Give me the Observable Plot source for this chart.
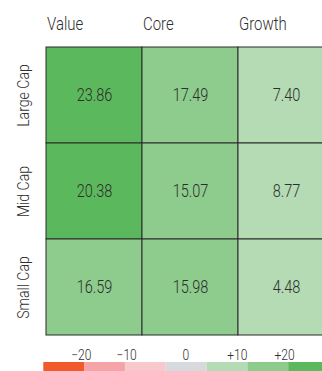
<!DOCTYPE html>
<html>
<head>
<meta charset="utf-8">
<script src="https://cdn.jsdelivr.net/npm/d3@7"></script>
<script src="https://cdn.jsdelivr.net/npm/@observablehq/plot@0.6"></script>
<style>
  html, body { margin: 0; padding: 0; background: #fff; overflow: hidden; width: 322px; height: 371px; }
  #chart svg { display: block; }
</style>
</head>
<body>
<div id="chart"></div>
<script>
// ---- data ----
const styles = ["Value", "Core", "Growth"];
const caps = ["Large Cap", "Mid Cap", "Small Cap"];
const largeCap = [23.86, 17.49, 7.40];
const midCap = [20.38, 15.07, 8.77];
const smallCap = [16.59, 15.98, 4.48];

const colorThresholds = [-20, -10, -0.5, 0.5, 10, 20];
const colorRange = ["#f15a2b", "#f4a3a6", "#f7c9cd", "#d6dadc", "#b4dbb4", "#8dcc8d", "#5cb85c"];

const legendTicks = ["\u221220", "\u221210", "0", "+10", "+20"];
const legendTickPos = [0.92, 2.03, 3.48, 4.74, 5.90];

// ---- build ----
const rowsByCap = [largeCap, midCap, smallCap];
const table = [];
caps.forEach((c, i) => styles.forEach((s, j) => table.push({cap: c, style: s, value: rowsByCap[i][j]})));

const FONT = "Roboto, 'Liberation Sans', sans-serif";
const INK = "#2e2e2e";

const main = Plot.plot({
  width: 322,
  height: 336,
  marginLeft: 46,
  marginTop: 47,
  marginRight: 0,
  marginBottom: 1,
  style: {fontFamily: FONT, fontWeight: 300, background: "white", overflow: "hidden"},
  x: {domain: styles, range: [46, 334], padding: 0, axis: null},
  y: {domain: caps, padding: 0, axis: null},
  color: {type: "threshold", domain: colorThresholds, range: colorRange},
  marks: [
    Plot.cell(table, {x: "style", y: "cap", fill: "value", stroke: "#2b2b2b", strokeWidth: 1, inset: 0}),
    Plot.text(table, {x: "style", y: "cap", text: d => d.value.toFixed(2), fontSize: 17.5, fontWeight: 300, fill: INK}),
    Plot.axisX({anchor: "top", tickSize: 0, tickPadding: 18, textAnchor: "start", dx: -47.5, fontSize: 18, fontWeight: 300, fill: INK, label: null}),
    Plot.text(caps, {y: d => d, frameAnchor: "left", textAnchor: "middle", rotate: -90, dx: -18, lineAnchor: "bottom", fontSize: 17, fontWeight: 300, fill: INK})
  ]
});

const bins = colorRange.map((c, i) => ({i, color: c}));
const ticks = legendTicks.map((t, k) => ({label: t, pos: legendTickPos[k]}));

const legend = Plot.plot({
  width: 322,
  height: 35,
  marginLeft: 43,
  marginRight: 0,
  marginTop: 26,
  marginBottom: 0,
  style: {fontFamily: FONT, fontWeight: 300, background: "white", overflow: "hidden"},
  x: {domain: [0, 7], range: [43.3, 329], axis: null},
  marks: [
    Plot.rect(bins, {x1: d => d.i, x2: d => d.i + 1, fill: d => d.color}),
    Plot.text(ticks, {x: "pos", text: "label", frameAnchor: "top", lineAnchor: "bottom", dy: -3, fontSize: 14, fontWeight: 300, fill: INK})
  ]
});

const el = document.getElementById("chart");
el.appendChild(main);
el.appendChild(legend);

// condensed look: squeeze glyphs horizontally around each text's anchor (in its own local space)
function condense(svg, s) {
  svg.querySelectorAll("text").forEach(t => {
    const b = t.getBBox();
    const holder = t.closest("[text-anchor]");
    const anchor = t.getAttribute("text-anchor") || (holder ? holder.getAttribute("text-anchor") : "start");
    const ax = anchor === "middle" ? b.x + b.width / 2 : anchor === "end" ? b.x + b.width : b.x;
    const ay = b.y + b.height / 2;
    const tr = t.getAttribute("transform") || "";
    t.setAttribute("transform", `${tr} translate(${ax},${ay}) scale(${s},1) translate(${-ax},${-ay})`);
  });
}
condense(main, 0.83);
condense(legend, 0.86);
</script>
</body>
</html>
